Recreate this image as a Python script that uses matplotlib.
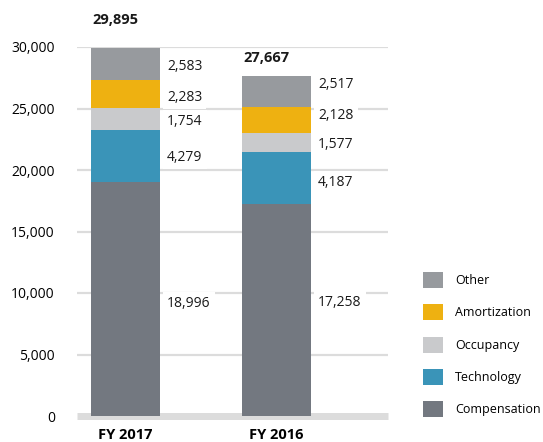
import matplotlib
matplotlib.use("Agg")
import matplotlib.pyplot as plt
import matplotlib.patches as mpatches
import numpy as np

plt.rcParams['font.family'] = ['Open Sans', 'DejaVu Sans']

# ── Data ──────────────────────────────────────────────────────────────────────
years = ["FY 2017", "FY 2016"]
categories = ["Compensation", "Technology", "Occupancy", "Amortization", "Other"]
compensation = [18996, 17258]
technology   = [4279, 4187]
occupancy    = [1754, 1577]
amortization = [2283, 2128]
other        = [2583, 2517]
totals       = [29895, 27667]

colors = {
    "Compensation": "#737880",
    "Technology":   "#3a94b8",
    "Occupancy":    "#c9cacc",
    "Amortization": "#eeb111",
    "Other":        "#979a9e",
}

# vertical nudges (pixels, + = up) for the value labels, per year / per category
label_nudge = [[-4, -1, -3, -3, -2],
               [7, -5, -2, 4, 7]]
total_nudge = [28, 18]   # pixels above bar top

series = [compensation, technology, occupancy, amortization, other]

# ── Figure ────────────────────────────────────────────────────────────────────
fig = plt.figure(figsize=(5.43, 4.42), dpi=100)
ax = fig.add_axes([77 / 543, 1 - 416 / 442, (388 - 77) / 543, (416 - 47) / 442])

x = np.arange(len(years))
width = 0.457
bottom = np.zeros(len(years))
for k, (name, vals) in enumerate(zip(categories, series)):
    vals = np.array(vals, dtype=float)
    ax.bar(x, vals, width, bottom=bottom, color=colors[name], zorder=2)
    for i, (xi, b, v) in enumerate(zip(x, bottom, vals)):
        ax.annotate(f"{int(v):,}", xy=(xi + width / 2, b + v / 2),
                    xytext=(7, label_nudge[i][k]), textcoords='offset pixels',
                    ha='left', va='center', fontsize=10, color='#1a1a1a', zorder=3,
                    bbox=dict(boxstyle='square,pad=0.3', fc='white', ec='none'))
    bottom += vals

# totals, left aligned with bar edge
for i, (xi, t) in enumerate(zip(x, totals)):
    ax.annotate(f"{t:,}", xy=(xi - width / 2, t), xytext=(1, total_nudge[i]),
                textcoords='offset pixels', ha='left', va='center',
                fontsize=10.5, fontweight='bold', color='#1a1a1a',
                annotation_clip=False)

ax.set_xlim(-0.321, 1.738)
ax.set_ylim(0, 30000)
ax.set_yticks(np.arange(0, 30001, 5000))
ax.set_yticklabels([f"{v:,}" for v in range(0, 30001, 5000)], fontsize=10)
ax.set_xticks(x)
ax.set_xticklabels(years, fontsize=10.5, fontweight='bold')
ax.tick_params(axis='y', length=0, pad=16)
ax.tick_params(axis='x', length=0, pad=8.5)

for y in range(5000, 30001, 5000):
    ax.axhline(y, color='#dcdcdc', lw=1.6, zorder=1, solid_capstyle='butt')
ax.axhline(0, color='#dcdcdc', lw=5, zorder=1, clip_on=False, solid_capstyle='butt')

for s in ax.spines.values():
    s.set_visible(False)

# ── Legend ────────────────────────────────────────────────────────────────────
handles = [mpatches.Patch(facecolor=colors[c], edgecolor='none', label=c)
           for c in reversed(categories)]
fig.legend(handles=handles, loc='upper left', bbox_to_anchor=(423 / 543, 1 - 272 / 442),
           frameon=False, fontsize=9, handlelength=1.6, handleheight=1.6,
           labelspacing=1.3, handletextpad=0.95, borderpad=0, borderaxespad=0)

fig.savefig("out.png", dpi=100)
